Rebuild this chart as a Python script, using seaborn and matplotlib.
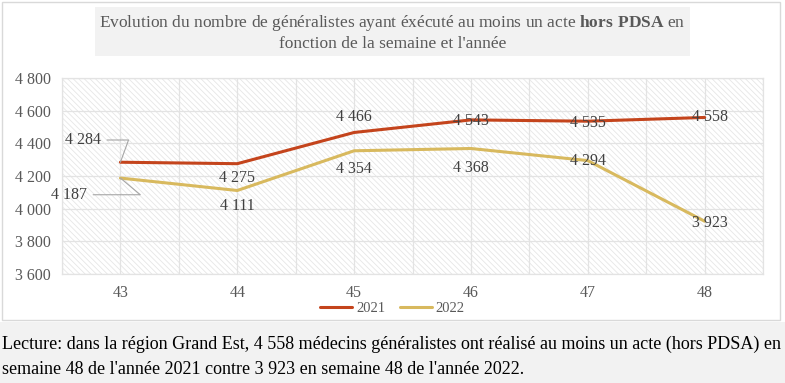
import matplotlib
matplotlib.use("Agg")
import matplotlib.pyplot as plt
import matplotlib.patches as mpatches
import numpy as np
import pandas as pd
import seaborn as sns

# data
weeks = ["43", "44", "45", "46", "47", "48"]
vals_2021 = [4284, 4275, 4466, 4543, 4535, 4558]
vals_2022 = [4187, 4111, 4354, 4368, 4294, 3923]
years = ["2021", "2022"]
y_ticks = [3600, 3800, 4000, 4200, 4400, 4600, 4800]

df = pd.DataFrame({
    "semaine": weeks * 2,
    "annee": [years[0]] * 6 + [years[1]] * 6,
    "n": vals_2021 + vals_2022,
})

sns.set_style("white")
plt.rcParams["font.family"] = ["Liberation Serif", "DejaVu Serif"]
plt.rcParams["mathtext.fontset"] = "custom"
plt.rcParams["mathtext.rm"] = "Liberation Serif"
plt.rcParams["mathtext.bf"] = "Liberation Serif:bold"
plt.rcParams["hatch.linewidth"] = 0.6
plt.rcParams["hatch.color"] = "#e2e2e2"

def fmt(v):
    return f"{v:,}".replace(",", " ")

grey = "#595959"
lab_col = "#404040"
fs = 11.5
colors = {"2021": "#C4441C", "2022": "#D8B95E"}

fig = plt.figure(figsize=(7.85, 3.83), dpi=100)

# chart frame and caption background
fig.patches.append(mpatches.Rectangle((0.003, 0.165), 0.991, 0.83, transform=fig.transFigure,
                                      facecolor="white", edgecolor="#d9d9d9", lw=1.0, zorder=0))
fig.patches.append(mpatches.Rectangle((0.0, 0.0), 1.0, 0.158, transform=fig.transFigure,
                                      facecolor="#f2f2f2", edgecolor="none", zorder=0))

ax = fig.add_axes([0.079, 0.2846, 0.893, 0.512])
ax.set_zorder(2)
ax.patch.set_facecolor("white")
ax.patch.set_hatch("\\\\\\\\\\\\")
ax.patch.set_edgecolor("#e6e6e6")

sns.lineplot(data=df, x="semaine", y="n", hue="annee", palette=colors, lw=2.2,
             ax=ax, legend=False, sort=False)

ax.set_xlim(-0.5, 5.5)
ax.set_ylim(3600, 4800)
ax.set_yticks(y_ticks)
ax.set_yticklabels([fmt(t) for t in y_ticks], fontsize=fs, color=grey)
ax.set_xticks(range(len(weeks)))
ax.set_xticklabels(weeks, fontsize=fs, color=grey)
ax.set_xticks(np.arange(-0.5, 6, 1), minor=True)
ax.tick_params(which="both", length=0, pad=8)
ax.tick_params(axis="y", pad=8)
ax.grid(True, which="both", color="#e3e3e3", lw=0.9)
ax.set_axisbelow(True)
ax.set_xlabel("")
ax.set_ylabel("")
for s in ax.spines.values():
    s.set_color("#e3e3e3")
    s.set_linewidth(0.9)

# data labels: offsets in points (dx, dy)
lab21 = [None, (0, -10), (0, 11), (0, -1), (0, -1), (4, 0)]
lab22 = [None, (0, -11), (0, -13), (0, -14), (0, 0), (4, -1)]
for i, (a, b) in enumerate(zip(vals_2021, vals_2022)):
    if lab21[i] is not None:
        ax.annotate(fmt(a), (i, a), xytext=lab21[i], textcoords="offset points",
                    ha="center", va="center", fontsize=fs, color=lab_col, zorder=5)
    if lab22[i] is not None:
        ax.annotate(fmt(b), (i, b), xytext=lab22[i], textcoords="offset points",
                    ha="center", va="center", fontsize=fs, color=lab_col, zorder=5)

# labels with leader lines for week 43
ax.annotate(fmt(vals_2021[0]), (0, vals_2021[0]), xytext=(-14, 16), textcoords="offset points",
            ha="right", va="center", fontsize=fs, color=lab_col,
            arrowprops=dict(arrowstyle="-", color="#a6a6a6", lw=0.8,
                            connectionstyle="angle,angleA=0,angleB=70,rad=0", shrinkA=2, shrinkB=0))
ax.annotate(fmt(vals_2022[0]), (0, vals_2022[0]), xytext=(-24, -12), textcoords="offset points",
            ha="right", va="center", fontsize=fs, color=lab_col,
            arrowprops=dict(arrowstyle="-", color="#a6a6a6", lw=0.8,
                            connectionstyle="angle,angleA=0,angleB=-40,rad=0", shrinkA=2, shrinkB=0))

# legend
handles = [plt.Line2D([], [], color=colors[y], lw=2.2) for y in years]
fig.legend(handles, years, loc="center", bbox_to_anchor=(0.5, 0.195), ncol=2, frameon=False,
           fontsize=10.5, handlelength=2.2, columnspacing=1.0, handletextpad=0.25,
           labelcolor=grey)

# title in a grey box
fig.text(0.5, 0.915,
         "Evolution du nombre de généralistes ayant éxécuté au moins un acte $\\mathbf{hors\\ PDSA}$ en\n"
         "fonction de la semaine et l'année",
         ha="center", va="center", fontsize=12.5, color=grey, linespacing=1.2,
         bbox=dict(boxstyle="square,pad=0.25", facecolor="#f2f2f2", edgecolor="none"))

fig.text(0.002, 0.068,
         "Lecture: dans la région Grand Est, 4 558 médecins généralistes ont réalisé au moins un acte (hors PDSA) en\n"
         "semaine 48 de l'année 2021 contre 3 923 en semaine 48 de l'année 2022.",
         ha="left", va="center", fontsize=13, color="black", linespacing=1.65)

fig.savefig("out.png", dpi=100)
